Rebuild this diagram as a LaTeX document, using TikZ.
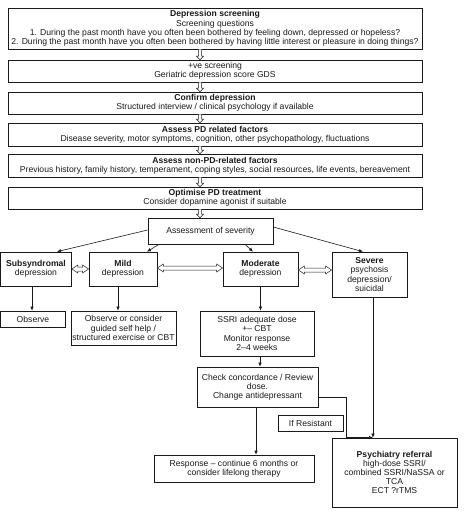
\documentclass[tikz,border=0pt]{standalone}
\usepackage{fontspec}
\setmainfont{Liberation Sans}
\usetikzlibrary{calc,arrows.meta}
\definecolor{ink}{HTML}{1A1A1A}
\tikzset{
  box/.style={draw=ink, line width=0.7pt, inner sep=0pt, align=center, text=ink,
     font=\fontsize{8.6}{9.2}\selectfont},
  arr/.style={draw=ink, line width=0.6pt, -{Latex[length=4pt,width=3.5pt]}},
  hollow/.style={draw=ink, line width=0.5pt, fill=white},
}
\newcommand\downarr[2]{\draw[hollow] let \p1=([xshift=-15pt]#1.south), \p2=(#2.north) in
  (\x1-1.5pt,\y1) -- (\x1-1.5pt,\y2+3.5pt) -- (\x1-3.5pt,\y2+3.5pt) -- (\x1,\y2)
  -- (\x1+3.5pt,\y2+3.5pt) -- (\x1+1.5pt,\y2+3.5pt) -- (\x1+1.5pt,\y1);}
\newcommand\dblarr[2]{\draw[hollow] let \p1=(#1), \p2=(#2) in
  (\x1,\y1) -- (\x1+6pt,\y1+4pt) -- (\x1+6pt,\y1+2pt) -- (\x2-6pt,\y1+2pt) -- (\x2-6pt,\y1+4pt)
  -- (\x2,\y1) -- (\x2-6pt,\y1-4pt) -- (\x2-6pt,\y1-2pt) -- (\x1+6pt,\y1-2pt) -- (\x1+6pt,\y1-4pt) -- cycle;}
\begin{document}
\begin{tikzpicture}[x=1pt,y=-1pt]
\useasboundingbox[fill=white] (0,0) rectangle (474,511);

\node[box, minimum width=414pt, minimum height=41pt] (b1) at (215,28.5)
 {\textbf{Depression screening}\\ Screening questions\\
  1. During the past month have you often been bothered by feeling down, depressed or hopeless?\\
  2. During the past month have you often been bothered by having little interest or pleasure in doing things?};
\node[box, minimum width=414pt, minimum height=22pt] (b2) at (215,71)
 {+ve screening\\ Geriatric depression score GDS};
\node[box, minimum width=414pt, minimum height=22pt] (b3) at (215,103)
 {\textbf{Confirm depression}\\ Structured interview / clinical psychology if available};
\node[box, minimum width=414pt, minimum height=23pt] (b4) at (215,134.5)
 {\textbf{Assess PD related factors}\\ Disease severity, motor symptoms, cognition, other psychopathology, fluctuations};
\node[box, minimum width=414pt, minimum height=23pt] (b5) at (215,165.5)
 {\textbf{Assess non-PD-related factors}\\ Previous history, family history, temperament, coping styles, social resources, life events, bereavement};
\node[box, minimum width=414pt, minimum height=22pt] (b6) at (215,198)
 {\textbf{Optimise PD treatment}\\ Consider dopamine agonist if suitable};

\node[box, minimum width=125pt, minimum height=26pt] (assess) at (210.5,231) {Assessment of severity};

\node[box, minimum width=71pt, minimum height=34pt] (subsyn) at (36,269) {\textbf{Subsyndromal}\\ depression};
\node[box, minimum width=68pt, minimum height=34pt] (mild) at (123,269) {\textbf{Mild}\\ depression};
\node[box, minimum width=75pt, minimum height=34pt] (moderate) at (260.5,269) {\textbf{Moderate}\\ depression};
\node[box, minimum width=75pt, minimum height=45pt] (severe) at (369.5,274.5) {\textbf{Severe}\\ psychosis\\ depression/\\ suicidal};

\node[box, minimum width=65pt, minimum height=16pt] (observe) at (33,319) {Observe};
\node[box, minimum width=105pt, minimum height=34pt] (obscons) at (123.5,328)
 {Observe or consider\\ guided self help /\\ structured exercise or CBT};
\node[box, minimum width=114pt, minimum height=45pt] (ssri) at (257,333.5)
 {SSRI adequate dose\\ +-- CBT\\ Monitor response\\ 2--4 weeks};
\node[box, minimum width=121pt, minimum height=40pt] (check) at (257.5,387)
 {Check concordance / Review\\ dose.\\ Change antidepressant};
\node[box, minimum width=65pt, minimum height=16pt] (resist) at (310.5,423) {If Resistant};
\node[box, minimum width=160pt, minimum height=27pt] (response) at (234,468.5)
 {Response -- continue 6 months or\\ consider lifelong therapy};
\node[box, minimum width=125pt, minimum height=69pt] (psych) at (394.5,472.5)
 {\textbf{Psychiatry referral}\\ high-dose SSRI/\\ combined SSRI/NaSSA or\\ TCA\\ ECT ?rTMS};

\coordinate (pj) at ([xshift=-21.5pt]psych.north);

% hollow down arrows
\downarr{b1}{b2}
\downarr{b2}{b3}
\downarr{b3}{b4}
\downarr{b4}{b5}
\downarr{b5}{b6}
\downarr{b6}{assess}

% severity arrows
\draw[arr] ([yshift=1pt]assess.west) -- ([xshift=21pt]subsyn.north);
\draw[arr] ([xshift=-51.5pt]assess.south) -- ([xshift=24pt]mild.north);
\draw[arr] ([xshift=34.5pt]assess.south) -- ([xshift=-7.5pt]moderate.north);
\draw[arr] ([yshift=4pt]assess.east) -- ([xshift=-6.5pt]severe.north);

% double hollow arrows
\dblarr{subsyn.east}{mild.west}
\dblarr{[yshift=1pt]mild.east}{[yshift=1pt]moderate.west}
\dblarr{[yshift=-1pt]moderate.east}{[yshift=-1pt]severe.west |- moderate.east}

% downward connectors
\draw[arr] ([xshift=-4pt]subsyn.south) -- ([xshift=-4pt]subsyn.south |- observe.north);
\draw[arr] ([xshift=-5pt]mild.south) -- ([xshift=-5pt]mild.south |- obscons.north);
\draw[arr] (moderate.south) -- (moderate.south |- ssri.north);
\draw[arr] ([xshift=3pt]ssri.south) -- ([xshift=3pt]ssri.south |- check.north);
\draw[arr] ([xshift=-1.5pt]check.south) -- ([xshift=-1.5pt]check.south |- response.north);
\draw[arr] ([yshift=-10pt]check.east) -| ([xshift=-27pt]pj) -- (pj);
\draw[arr] (severe.south -| pj) -- (pj);
\end{tikzpicture}
\end{document}
